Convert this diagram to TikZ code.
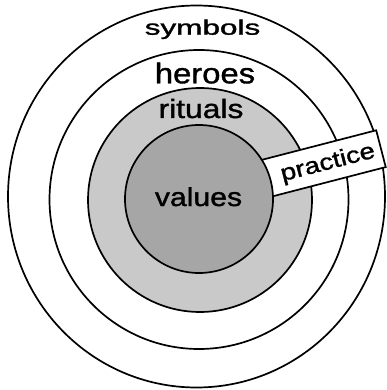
\documentclass[tikz,border=0pt]{standalone}
\usepackage{fontspec}
\setmainfont{Liberation Sans}[BoldFont={Liberation Sans}, BoldFeatures={FakeBold=1.2}]
\definecolor{ringgray}{gray}{0.79}
\definecolor{coregray}{gray}{0.65}
\tikzset{
  ring/.style={draw=black, line width=1.7pt},
  lbl/.style={inner sep=0pt, anchor=base, text=black, font=\bfseries},
}
\newcommand{\lblfont}[2]{\fontsize{#1}{#1}\selectfont\scalebox{#2}[1]}
\begin{document}
\begin{tikzpicture}[x=1pt, y=-1pt]
\useasboundingbox (0,0) rectangle (386,390);
% outer ring (symbols)
\draw[ring] (196.5,196.5) ellipse [x radius=188.5pt, y radius=191pt];
% heroes ring
\draw[ring] (199,199.5) circle [radius=149.5pt];
% rituals ring
\draw[ring, fill=ringgray] (200,200) circle [radius=112pt];
% practice band
\begin{scope}[shift={(198,196)}, rotate=14.5]
  \draw[ring, fill=white] (40,-19) rectangle (189,19);
  \node[lbl, transform shape] (practice) at (134,7) {\lblfont{23}{1.2}{practice}};
\end{scope}
% values core
\draw[ring, fill=coregray] (199,199) circle [radius=74pt];
% labels
\node[lbl] (symbols) at (202.5,34.7) {\lblfont{21}{1.5}{symbols}};
\node[lbl] (heroes) at (205,83.3) {\lblfont{28.5}{1.15}{heroes}};
\node[lbl] (rituals) at (201,118) {\lblfont{26.5}{1.2}{rituals}};
\node[lbl] (values) at (198.5,206) {\lblfont{26}{1.16}{values}};
\end{tikzpicture}
\end{document}
